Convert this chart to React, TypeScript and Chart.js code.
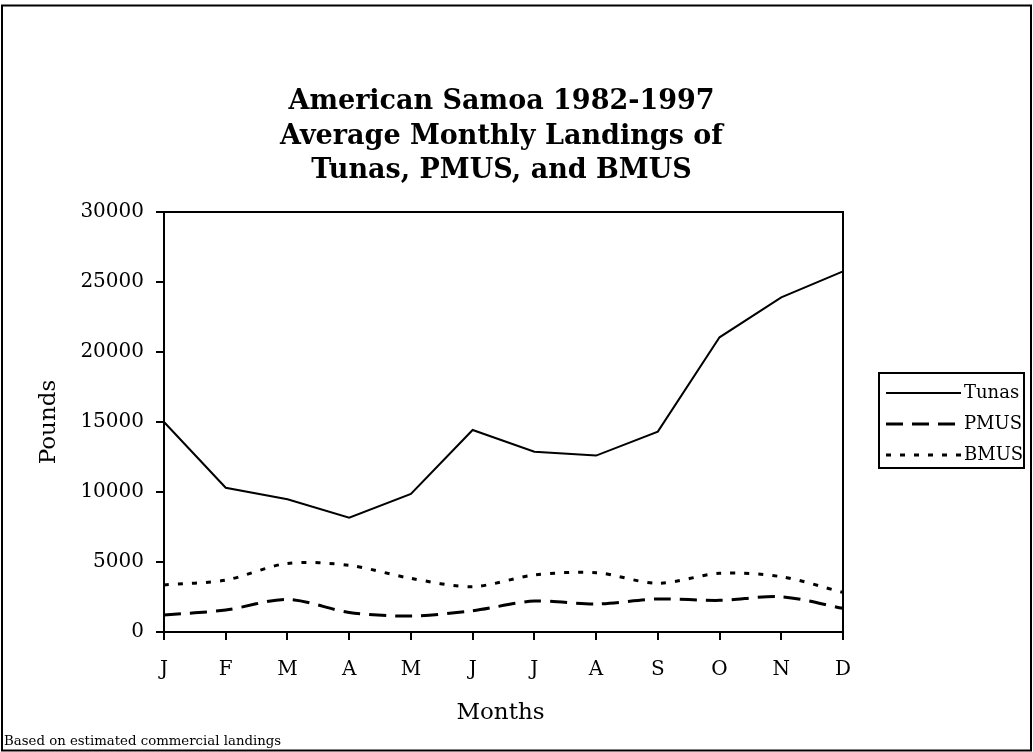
import React, { useEffect, useRef } from "react";
import { Chart, registerables } from "chart.js";

Chart.register(...registerables);

const months = ["J", "F", "M", "A", "M", "J", "J", "A", "S", "O", "N", "D"];
const tunas = [15000, 10300, 9480, 8170, 9860, 14430, 12880, 12600, 14310, 21050, 23900, 25760];
const pmus = [1210, 1570, 2330, 1400, 1140, 1520, 2210, 2000, 2360, 2260, 2520, 1690];
const bmus = [3360, 3710, 4900, 4760, 3830, 3240, 4070, 4240, 3480, 4190, 3950, 2830];
const titleLines = ["American Samoa 1982-1997", "Average Monthly Landings of", "Tunas, PMUS, and BMUS"];
const xAxisTitle = "Months";
const yAxisTitle = "Pounds";
const footnote = "Based on estimated commercial landings";
const yMin = 0;
const yMax = 30000;
const yStep = 5000;

const FONT = "'DejaVu Serif', 'Liberation Serif', serif";

const decorPlugin = {
  id: "decor",
  afterDraw(chart: any) {
    const ctx = chart.ctx as CanvasRenderingContext2D;
    const a = chart.chartArea;
    ctx.save();
    // outer frame
    ctx.strokeStyle = "#000";
    ctx.lineWidth = 2;
    ctx.strokeRect(2, 5.5, 1029, 745);
    // plot frame top/right
    ctx.beginPath();
    ctx.moveTo(a.left, a.top);
    ctx.lineTo(a.right, a.top);
    ctx.lineTo(a.right, a.bottom);
    ctx.stroke();
    // title
    ctx.fillStyle = "#000";
    ctx.textAlign = "center";
    ctx.textBaseline = "middle";
    ctx.font = `bold 27px ${FONT}`;
    const cx = (a.left + a.right) / 2;
    titleLines.forEach((t, i) => ctx.fillText(t, cx - 2, 102 + i * 34.5));
    // axis titles
    ctx.font = `23px ${FONT}`;
    ctx.fillText(xAxisTitle, cx - 3, 713);
    ctx.save();
    ctx.translate(49, (a.top + a.bottom) / 2);
    ctx.rotate(-Math.PI / 2);
    ctx.fillText(yAxisTitle, 0, 0);
    ctx.restore();
    // footnote
    ctx.textAlign = "left";
    ctx.font = `13.3px ${FONT}`;
    ctx.fillText(footnote, 4, 742);
    // legend
    const lx = 879, ly = 373, lw = 145, lh = 95;
    ctx.lineWidth = 2;
    ctx.setLineDash([]);
    ctx.strokeRect(lx, ly, lw, lh);
    ctx.font = `18px ${FONT}`;
    chart.data.datasets.forEach((ds: any, i: number) => {
      const y = ly + 20 + i * 31;
      ctx.save();
      ctx.strokeStyle = ds.borderColor;
      ctx.lineWidth = ds.borderWidth;
      ctx.setLineDash(ds.borderDash || []);
      ctx.beginPath();
      ctx.moveTo(lx + 7, y);
      ctx.lineTo(lx + 82, y);
      ctx.stroke();
      ctx.restore();
      ctx.fillStyle = "#000";
      ctx.textAlign = "left";
      ctx.fillText(ds.label, lx + 85, y);
    });
    ctx.restore();
  },
};

export default function App() {
  const ref = useRef<HTMLCanvasElement | null>(null);
  useEffect(() => {
    if (!ref.current) return;
    const chart = new Chart(ref.current, {
      type: "line",
      data: {
        labels: months,
        datasets: [
          { label: "Tunas", data: tunas, borderColor: "#000", borderWidth: 2, borderDash: [], pointRadius: 0, tension: 0, fill: false },
          { label: "PMUS", data: pmus, borderColor: "#000", borderWidth: 3, borderDash: [17, 9], pointRadius: 0, tension: 0.3, fill: false },
          { label: "BMUS", data: bmus, borderColor: "#000", borderWidth: 3, borderDash: [5, 9], pointRadius: 0, tension: 0.3, fill: false },
        ],
      },
      options: {
        animation: false,
        responsive: false,
        devicePixelRatio: 1,
        layout: { padding: { left: 0, right: 190, top: 212, bottom: 0 } },
        plugins: { legend: { display: false }, title: { display: false }, tooltip: { enabled: false } },
        scales: {
          x: {
            afterFit: (s: any) => { s.height = 120; },
            grid: { display: true, drawOnChartArea: false, drawTicks: true, tickLength: 8, color: "#000", lineWidth: 2 },
            border: { display: true, color: "#000", width: 2 },
            ticks: { color: "#000", font: { family: FONT, size: 20 }, padding: 18, autoSkip: false, maxRotation: 0 },
          },
          y: {
            min: yMin,
            max: yMax,
            afterFit: (s: any) => { s.width = 164; },
            grid: { display: true, drawOnChartArea: false, drawTicks: true, tickLength: 8, color: "#000", lineWidth: 2 },
            border: { display: true, color: "#000", width: 2 },
            ticks: {
              stepSize: yStep,
              color: "#000",
              font: { family: FONT, size: 20 },
              padding: 12,
              callback: (v: any) => String(v),
            },
          },
        },
      },
      plugins: [decorPlugin],
    });
    return () => chart.destroy();
  }, []);
  return (
    <div style={{ position: "fixed", left: 0, top: 0, width: 1033, height: 752, background: "#fff" }}>
      <canvas ref={ref} width={1033} height={752} style={{ width: 1033, height: 752, display: "block" }} />
    </div>
  );
}
